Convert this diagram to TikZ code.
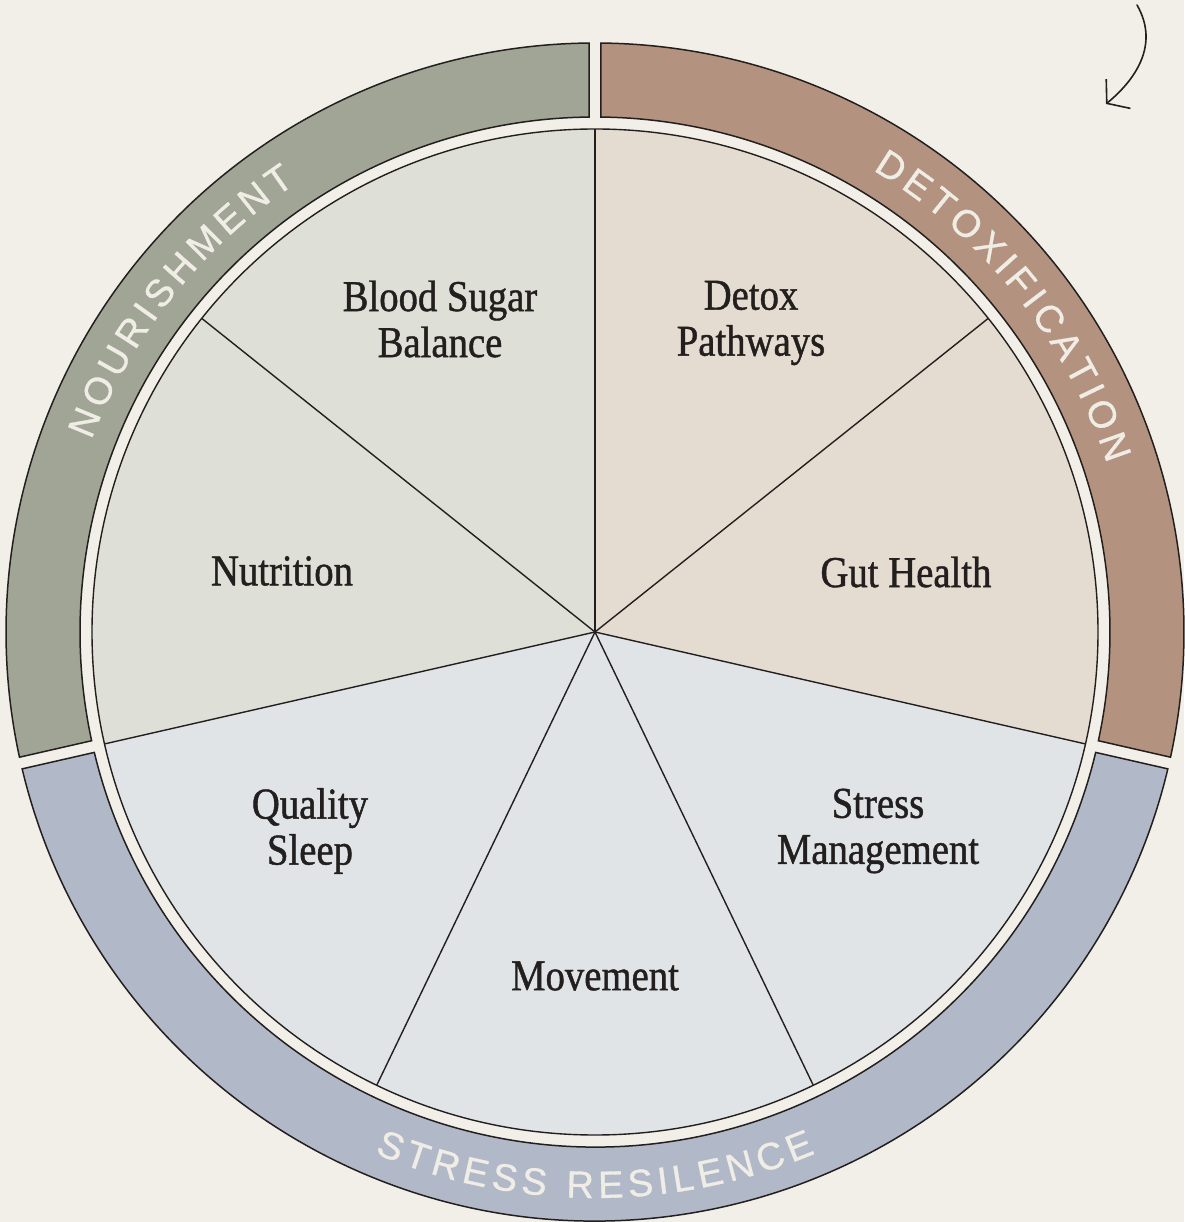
\documentclass[tikz,border=0pt]{standalone}
\usepackage{fontspec}
\usetikzlibrary{arrows.meta}
\newfontfamily\slicefont[FakeStretch=0.88,FakeBold=1.0]{Liberation Serif}
\newfontfamily\ringfont[FakeBold=0.8]{Liberation Sans}

\definecolor{paper}{HTML}{F2EFE9}
\definecolor{ink}{HTML}{231F1E}
\definecolor{nourishband}{HTML}{A1A595}
\definecolor{detoxband}{HTML}{B3937F}
\definecolor{stressband}{HTML}{B1B8C7}
\definecolor{nourishfill}{HTML}{DEDFD6}
\definecolor{detoxfill}{HTML}{E5DCD1}
\definecolor{stressfill}{HTML}{E0E4E7}
\definecolor{ringletters}{HTML}{F0EDE6}

\tikzset{slicelabel/.style={font=\slicefont\fontsize{44}{46}\selectfont,text=ink,align=center,inner sep=0},
    ringletter/.style={font=\ringfont\fontsize{38}{38}\selectfont,text=ringletters,inner sep=0,anchor=base},
    bandline/.style={draw=ink,line width=1.5pt,line join=miter},
    spoke/.style={draw=ink,line width=1.4pt}
}

\newcommand{\wheelslice}[2]
{
% args: (start angle of the slice, fill colour)
    \pgfmathsetmacro\slicestart{#1}
    \pgfmathsetmacro\sliceend{#1+360/7}
    \fill [#2] (hub) -- (\slicestart:503) arc [start angle=\slicestart, end angle=\sliceend, radius=503] -- cycle;
}
\newcommand{\ringband}[3]
{
% args: (start angle, end angle, fill colour), both ends cut 6 off the dividing ray
    \pgfmathsetmacro\outa{#1+asin(6/589)}
    \pgfmathsetmacro\outb{#2-asin(6/589)}
    \pgfmathsetmacro\ina{#1+asin(6/515)}
    \pgfmathsetmacro\inb{#2-asin(6/515)}
    \draw [bandline,fill=#3] (\outa:589) arc [start angle=\outa, end angle=\outb, radius=589]
        -- (\inb:515) arc [start angle=\inb, end angle=\ina, radius=515] -- cycle;
}
\newcommand{\bandtitle}[5]
{
% args: (name, baseline radius, middle angle, 1 = anticlockwise / -1 = clockwise, letter/width pairs)
% widths are in 1/1000 em of the 38pt sans, 5pt tracking between letters
    \gdef\titlewidth{-5}
    \foreach \ch/\w in {#5}
    {
        \pgfmathsetmacro\tmpw{\titlewidth+\w*0.038+5}
        \global\let\titlewidth\tmpw
    }
    \pgfmathsetmacro\tmpw{-0.5*\titlewidth}
    \global\let\titlepos\tmpw
    \foreach \ch/\w [count=\i] in {#5}
    {
        \pgfmathsetmacro\changle{#3+#4*(\titlepos+0.019*\w)/#2*180/pi}
        \node (#1\i) [ringletter,rotate=\changle+#4*90] at (\changle:#2) {\ch};
        \pgfmathsetmacro\tmpw{\titlepos+\w*0.038+5}
        \global\let\titlepos\tmpw
    }
}

\begin{document}
\begin{tikzpicture}[x=1pt,y=1pt]

\fill [paper] (-595,-590) rectangle (589,632);
\useasboundingbox (-595,-590) rectangle (589,632);
\coordinate (hub) at (0,0);

% outer bands
\ringband{90}{192.857}{nourishband}
\ringband{-12.857}{90}{detoxband}
\ringband{192.857}{347.143}{stressband}

% seven slices
\foreach \k/\col in {0/nourishfill,1/nourishfill,2/stressfill,3/stressfill,4/stressfill,5/detoxfill,6/detoxfill}
{
    \wheelslice{90+\k*360/7}{\col}
}

\foreach \k in {0,...,6}
    \draw [spoke] (hub) -- ({90+\k*360/7}:503);
\draw [spoke] (hub) circle [radius=503];

\node (bloodsugar) [slicelabel] at (-155,313) {Blood Sugar\\Balance};
\node (detox) [slicelabel] at (156,309) {Detox\\Pathways};
\node (nutrition) [slicelabel] at (-313,61) {Nutrition};
\node (guthealth) [slicelabel] at (311,60) {Gut Health};
\node (sleep) [slicelabel] at (-285,-199) {Quality\\Sleep};
\node (stressmgmt) [slicelabel] at (283,-199) {Stress\\Management};
\node (movement) [slicelabel] at (0,-344) {Movement};

\bandtitle{nourish}{539}{141.43}{-1}{N/722,O/778,U/722,R/722,I/278,S/667,H/722,M/833,E/667,N/722,T/611}
\bandtitle{detox}{539}{38.57}{-1}{D/722,E/667,T/611,O/778,X/667,I/278,F/611,I/278,C/722,A/667,T/611,I/278,O/778,N/722}
\bandtitle{stress}{566}{270}{1}{S/667,T/611,R/722,E/667,S/667,S/667,{}/278,R/722,E/667,S/667,I/278,L/556,E/667,N/722,C/722,E/667}

% hand drawn arrow, top right
\coordinate (arrowstart) at (542,627);
\coordinate (arrowtip) at (511,528);
\draw [ink,line width=1.6pt,line cap=round,-{Straight Barb[length=15pt,width=38pt]}]
    (arrowstart) .. controls (565,587) and (540,552) .. (arrowtip);

\end{tikzpicture}
\end{document}
